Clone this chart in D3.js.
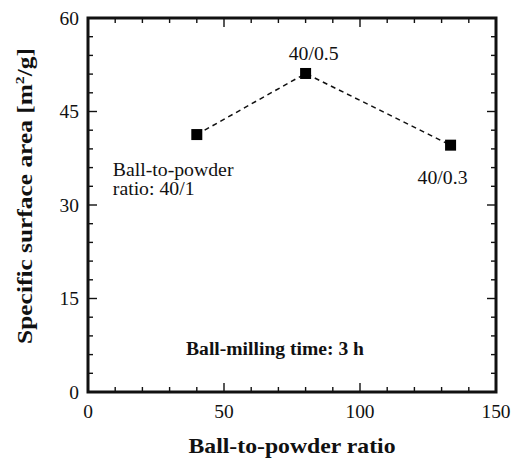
<!DOCTYPE html>
<html>
<head>
<meta charset="utf-8">
<script src="https://cdn.jsdelivr.net/npm/d3@7"></script>
<style>
  html, body { margin: 0; padding: 0; background: #fff; }
  svg { display: block; }
</style>
</head>
<body>
<svg id="chart" width="512" height="458"></svg>
<script>
// Ball-to-powder ratio (x) versus specific surface area (y)
const ratios = [40, 80, 133.3];
const surfaceArea = [41.3, 51.1, 39.6];
const pointLabels = ["Ball-to-powder\nratio: 40/1", "40/0.5", "40/0.3"];
const xTicks = [0, 50, 100, 150];
const yTicks = [0, 15, 30, 45, 60];

const FONT = "'Liberation Serif'";

const svg = d3.select("#chart");
const m = { left: 88, top: 18, right: 496, bottom: 392 };

const x = d3.scaleLinear().domain([0, 150]).range([m.left, m.right]);
const y = d3.scaleLinear().domain([0, 60]).range([m.bottom, m.top]);

// Text placed at (px, py), slightly widened along its baseline
function label(px, py, size, opts = {}) {
  const sx = opts.sx || 1.06;
  const rot = opts.rotate ? ` rotate(${opts.rotate})` : "";
  return svg.append("text")
    .attr("transform", `translate(${px},${py})${rot} scale(${sx},1)`)
    .attr("fill", "#111")
    .attr("text-anchor", opts.anchor || "middle")
    .style("font-family", FONT)
    .style("font-size", size + "px")
    .style("font-weight", opts.bold ? "bold" : "normal");
}

// Inward ticks on all four sides
const tickG = svg.append("g").attr("stroke", "#111").attr("stroke-width", 1.4);
d3.range(0, 151, 10).forEach(v => {
  const len = v % 50 === 0 ? 9 : 5;
  tickG.append("line").attr("x1", x(v)).attr("x2", x(v)).attr("y1", m.bottom).attr("y2", m.bottom - len);
  tickG.append("line").attr("x1", x(v)).attr("x2", x(v)).attr("y1", m.top).attr("y2", m.top + len);
});
d3.range(0, 61, 3).forEach(v => {
  const len = v % 15 === 0 ? 9 : 5;
  tickG.append("line").attr("y1", y(v)).attr("y2", y(v)).attr("x1", m.left).attr("x2", m.left + len);
  tickG.append("line").attr("y1", y(v)).attr("y2", y(v)).attr("x1", m.right).attr("x2", m.right - len);
});

// Frame
svg.append("rect")
  .attr("x", m.left).attr("y", m.top)
  .attr("width", m.right - m.left).attr("height", m.bottom - m.top)
  .attr("fill", "none").attr("stroke", "#111").attr("stroke-width", 3);

// Tick labels
xTicks.forEach(v => label(x(v), 418, 18, { sx: 1.08 }).text(v));
yTicks.forEach(v => label(79, y(v) + 6.5, 18, { sx: 1.08, anchor: "end" }).text(v));

// Axis titles
label(x(75), 453, 21, { bold: true, sx: 1.13 }).text("Ball-to-powder ratio");
const yTitle = label(32, 196, 21, { bold: true, sx: 1.21, rotate: -90 });
yTitle.append("tspan").text("Specific surface area [m");
yTitle.append("tspan").style("font-size", "13px").attr("dy", -8).text("2");
yTitle.append("tspan").attr("dy", 8).text("/g]");

// Dashed connecting line
const pts = ratios.map((r, i) => [r, surfaceArea[i]]);
svg.append("path")
  .attr("d", d3.line().x(d => x(d[0])).y(d => y(d[1]))(pts))
  .attr("fill", "none").attr("stroke", "#111").attr("stroke-width", 1.5)
  .attr("stroke-dasharray", "5,4");

// Square markers
svg.append("g").selectAll("rect").data(pts).join("rect")
  .attr("x", d => x(d[0]) - 5.5).attr("y", d => y(d[1]) - 5.5)
  .attr("width", 11).attr("height", 11).attr("fill", "#000");

// Point annotations
const labelPos = [
  { dx: -84, dy: 41, anchor: "start" },
  { dx: 8, dy: -13, anchor: "middle" },
  { dx: -8, dy: 39, anchor: "middle" }
];
pointLabels.forEach((lab, i) => {
  const t = label(x(ratios[i]) + labelPos[i].dx, y(surfaceArea[i]) + labelPos[i].dy, 19,
    { anchor: labelPos[i].anchor, sx: 1.04 });
  lab.split("\n").forEach((line, j) => {
    t.append("tspan").attr("x", 0).attr("dy", j === 0 ? 0 : 19.5).text(line);
  });
});

label(275, 355, 18.5, { bold: true, sx: 1.06 }).text("Ball-milling time: 3 h");
</script>
</body>
</html>
